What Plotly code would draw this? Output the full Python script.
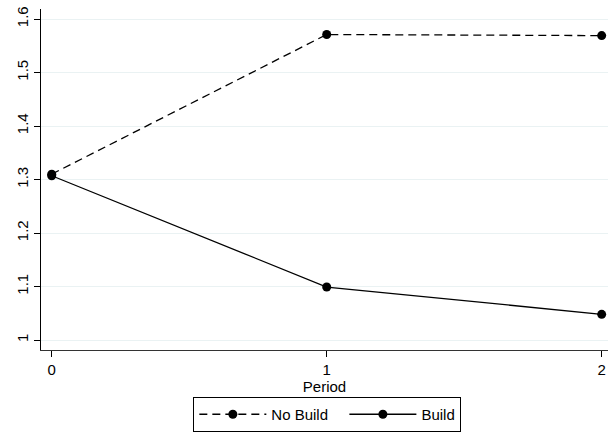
import plotly.graph_objects as go

periods = [0, 1, 2]
no_build = [1.310, 1.571, 1.569]
build = [1.307, 1.099, 1.048]
y_ticks = [1.0, 1.1, 1.2, 1.3, 1.4, 1.5, 1.6]
y_tick_labels = ["1", "1.1", "1.2", "1.3", "1.4", "1.5", "1.6"]
series_names = ["No Build", "Build"]

fig = go.Figure()
fig.add_trace(go.Scatter(
    x=periods, y=no_build, name=series_names[0] + "\u00a0\u00a0\u2009", mode="lines+markers",
    line=dict(color="black", width=1.3, dash="8px,5px"),
    marker=dict(color="black", size=9, symbol="circle"),
))
fig.add_trace(go.Scatter(
    x=periods, y=build, name=series_names[1], mode="lines+markers",
    line=dict(color="black", width=1.3),
    marker=dict(color="black", size=9, symbol="circle"),
))

fig.update_layout(
    width=608, height=433,
    margin=dict(l=41, r=0, t=9, b=83, autoexpand=False),
    paper_bgcolor="white", plot_bgcolor="white",
    font=dict(family="Liberation Sans, Arial, sans-serif", size=15, color="black"),
    showlegend=True,
    legend=dict(
        orientation="h", x=0.505, xanchor="center", y=-0.1378, yanchor="top",
        bordercolor="black", borderwidth=1, font=dict(size=15),
        itemwidth=67, traceorder="normal",
    ),
    xaxis=dict(
        range=[-0.039, 2.023], tickvals=periods, ticktext=["0", "1", "2"],
        showgrid=False, zeroline=False, showline=True, linecolor="#333333",
        linewidth=1, ticks="outside", ticklen=6, tickcolor="black",
        automargin=False,
        title=dict(text="Period", standoff=0, font=dict(size=15)),
    ),
    yaxis=dict(
        range=[0.9813, 1.6187], tickvals=y_ticks, ticktext=y_tick_labels,
        tickangle=-90, showgrid=True, gridcolor="#eaf2f3", gridwidth=1,
        zeroline=False, showline=True, linecolor="black", linewidth=1,
        ticks="outside", ticklen=6, tickcolor="black", automargin=False,
    ),
)

fig.write_html(
    "out.html",
    config={"responsive": False, "displayModeBar": False},
    post_script="document.body.style.margin='0';document.body.style.overflow='hidden';",
)
